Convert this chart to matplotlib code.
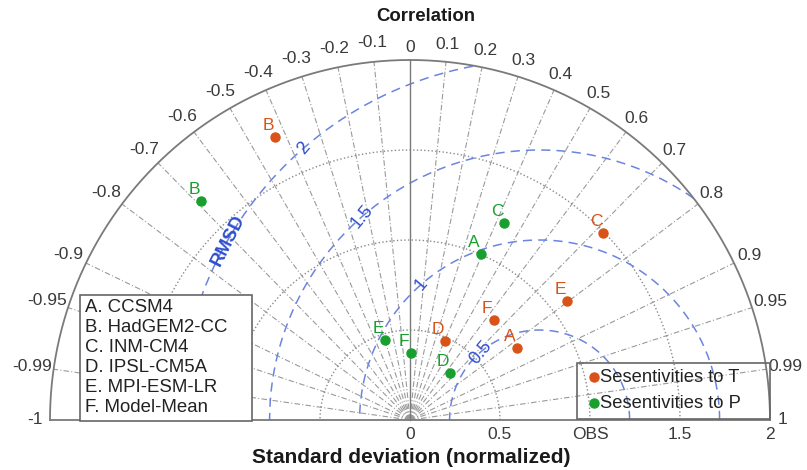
import numpy as np
import matplotlib
matplotlib.use('Agg')
import matplotlib.pyplot as plt
from matplotlib.patches import Rectangle

plt.rcParams['font.family'] = ['Liberation Sans', 'DejaVu Sans']

# ---------------- data ----------------
models = ['A', 'B', 'C', 'D', 'E', 'F']
model_names = ['CCSM4', 'HadGEM2-CC', 'INM-CM4', 'IPSL-CM5A', 'MPI-ESM-LR', 'Model-Mean']
std_T = [0.716, 1.742, 1.493, 0.480, 1.094, 0.726]
corr_T = [0.830, -0.430, 0.718, 0.404, 0.797, 0.643]
std_P = [1.003, 1.682, 1.212, 0.343, 0.465, 0.372]
corr_P = [0.393, -0.690, 0.431, 0.648, -0.299, 0.016]
series_names = ['Sesentivities to T', 'Sesentivities to P']

corr_ticks = [-1, -0.99, -0.95, -0.9, -0.8, -0.7, -0.6, -0.5, -0.4, -0.3, -0.2, -0.1,
              0, 0.1, 0.2, 0.3, 0.4, 0.5, 0.6, 0.7, 0.8, 0.9, 0.95, 0.99, 1]
corr_ticklabels = ['-1', '-0.99', '-0.95', '-0.9', '-0.8', '-0.7', '-0.6', '-0.5', '-0.4',
                   '-0.3', '-0.2', '-0.1', '0', '0.1', '0.2', '0.3', '0.4', '0.5', '0.6',
                   '0.7', '0.8', '0.9', '0.95', '0.99', '1']
std_ticks = [0, 0.5, 1, 1.5, 2]
std_ticklabels = ['0', '0.5', 'OBS', '1.5', '2']
std_arcs = [0.5, 1.0, 1.5]
rms_levels = [0.5, 1.0, 1.5, 2.0]
rms_labels = ['0.5', '1', '1.5', '2']
ref_std = 0.72
max_std = 2.0

# ---------------- styling ----------------
c_T = '#D95319'
c_P = '#18A02E'
c_rms = '#6B84E0'
c_rmslab = '#2F4FD0'
c_grid = '#9A9A9A'
c_axis = '#7A7A7A'
c_txt = '#3a3a3a'

fig = plt.figure(figsize=(8.07, 4.70), dpi=100)
ax = fig.add_axes([0, 0, 1, 1])
ax.set_xlim(-410 / 180, 397 / 180)
ax.set_ylim(-50 / 180, 420 / 180)
ax.axis('off')

th = np.linspace(0, np.pi, 600)

# std arcs (dotted)
for s in std_arcs:
    ax.plot(s * np.cos(th), s * np.sin(th), ls=':', color='#8a8a8a', lw=1.0, zorder=1)

# correlation radial lines
for c in corr_ticks:
    if c in (-1, 0, 1):
        continue
    t = np.arccos(c)
    ax.plot([0, max_std * np.cos(t)], [0, max_std * np.sin(t)],
            ls=(0, (5, 2, 1, 2)), color=c_grid, lw=0.8, zorder=1)

# RMSD circles (clipped to the diagram)
for r in rms_levels:
    x = ref_std + r * np.cos(th)
    y = r * np.sin(th)
    m = x ** 2 + y ** 2 <= max_std ** 2 + 1e-6
    x = np.where(m, x, np.nan)
    y = np.where(m, y, np.nan)
    ax.plot(x, y, ls=(0, (6, 4)), color=c_rms, lw=1.1, zorder=2)

# RMSD labels
ang = np.deg2rad(131)
for r, lab in zip(rms_levels, rms_labels):
    ax.text(ref_std + r * np.cos(ang), r * np.sin(ang), lab, rotation=50,
            ha='center', va='center', fontsize=13, color=c_rmslab, zorder=3)
ang2 = np.deg2rad(150)
ax.text(ref_std + 2.0 * np.cos(ang2), 2.0 * np.sin(ang2), 'RMSD', rotation=63,
        ha='center', va='center', fontsize=13.5, fontweight='bold', color=c_rmslab, zorder=3)

# axes frame
ax.plot(max_std * np.cos(th), max_std * np.sin(th), color=c_axis, lw=1.3, zorder=3)
ax.plot([-max_std, max_std], [0, 0], color=c_axis, lw=1.3, zorder=3)
ax.plot([0, 0], [0, max_std], color=c_axis, lw=1.0, zorder=3)

# correlation tick labels
for c, lab in zip(corr_ticks, corr_ticklabels):
    t = np.arccos(c)
    r = 2.06 + 0.012 * len(lab)
    ax.text(r * np.cos(t), r * np.sin(t), lab, ha='center', va='center',
            fontsize=12.5, color=c_txt)

# std tick labels
for s, lab in zip(std_ticks, std_ticklabels):
    ax.text(s, -0.083, lab, ha='center', va='center', fontsize=12.5, color=c_txt)

ax.text(0.09, 2.244, 'Correlation', ha='center', va='center', fontsize=13.4,
        fontweight='bold', color='#1a1a1a')
ax.text(0.005, -0.211, 'Standard deviation (normalized)', ha='center', va='center',
        fontsize=15, fontweight='bold', color='#1a1a1a')

# points
for stds, corrs, col in ((std_T, corr_T, c_T), (std_P, corr_P, c_P)):
    s = np.array(stds)
    c = np.array(corrs)
    x = s * c
    y = s * np.sqrt(1 - c ** 2)
    ax.plot(x, y, 'o', color=col, ms=6.5, zorder=6)
    for xi, yi, lab in zip(x, y, models):
        ax.annotate(lab, (xi, yi), xytext=(-5, 8.5), textcoords='offset points',
                    ha='center', va='center', fontsize=12.5, color=col, zorder=6)

# left legend (model names)
ax.add_patch(Rectangle((-1.833, -0.006), 0.955, 0.70, fc='white', ec='#666666',
                       lw=1.2, zorder=7))
for i, (m, name) in enumerate(zip(models, model_names)):
    py = 308 + 20 * i
    ax.text(-1.805, (420 - py) / 180, f'{m}. {name}', ha='left', va='center',
            fontsize=13.4, color='#222222', zorder=8)

# right legend (series)
ax.add_patch(Rectangle((0.928, 0.006), 1.072, 0.311, fc='none', ec='#666666',
                       lw=1.2, zorder=7))
for i, (name, col) in enumerate(zip(series_names, (c_T, c_P))):
    py = 377 + 26 * i
    yy = (420 - py) / 180
    ax.plot([1.022], [yy], 'o', color=col, ms=6.5, zorder=8)
    ax.text(1.056, yy, name, ha='left', va='center', fontsize=13.2, color='#222222', zorder=8)

fig.savefig('out.png', dpi=100)
